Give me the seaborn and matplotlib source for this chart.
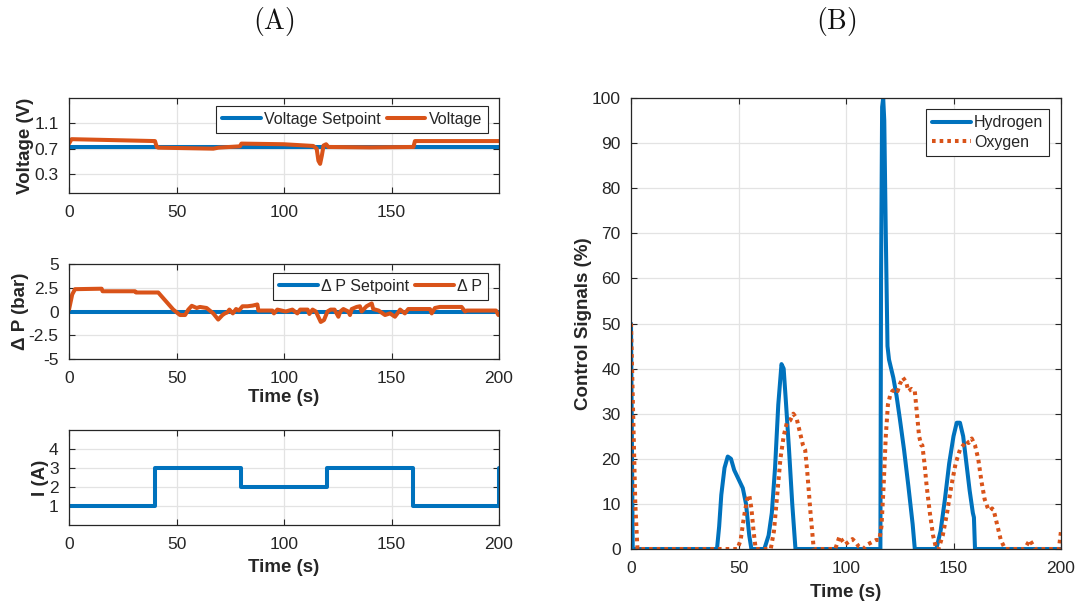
import numpy as np
import pandas as pd
import seaborn as sns
import matplotlib
matplotlib.use("Agg")
import matplotlib.pyplot as plt

# ---------------- data ----------------
v_set_t = [0, 200]
v_set = [0.725, 0.725]
volt_t = [0, 1.2, 40, 40.8, 41.5, 67.1, 69.5, 79.5, 80.2, 99.7, 113.6, 115.2, 116.0, 116.8, 117.6, 118.4, 119.6, 120.6, 140, 160.2, 160.9, 200]
volt_v = [0.78, 0.85, 0.82, 0.727, 0.716, 0.70, 0.716, 0.737, 0.78, 0.77, 0.743, 0.70, 0.51, 0.46, 0.59, 0.75, 0.77, 0.727, 0.72, 0.727, 0.82, 0.82]

dp_set_t = [0, 200]
dp_set = [0, 0]
dp_t = [0, 1.5, 2.8, 15.2, 15.6, 30.7, 31.2, 41.5, 48.5, 51.6, 54, 55.5, 57.1, 59.4, 60.9, 64, 67.1, 69.4, 71.4, 72.5, 73.6, 74.6, 76.2, 77.7, 79, 80.7, 83, 85.4, 87.6, 88.1, 94.6, 95.3, 96.9, 100.8, 103.9, 106.2, 107.5, 111.0, 111.8, 113.3, 114.8, 117.1, 118.6, 120.2, 121.7, 123.5, 125.3, 126.2, 127.6, 129.9, 130.7, 131.5, 133.8, 135.3, 136.1, 138.4, 140.8, 141.5, 144, 147, 149.3, 151.6, 153.1, 154, 156.2, 157.8, 167.9, 168.7, 170.2, 172.5, 182.6, 184.2, 185, 198.6, 199.7]
dp_v = [0.2, 1.8, 2.35, 2.4, 2.13, 2.13, 2.0, 2.0, 0.2, -0.37, -0.37, 0.2, 0.6, 0.37, 0.48, 0.37, -0.2, -0.85, -0.37, -0.2, -0.1, 0.2, -0.2, 0.26, 0.1, 0.55, 0.55, 0.62, 0.74, 0.1, 0.1, -0.2, 0.2, 0.0, 0.2, -0.2, 0.2, 0.2, -0.26, 0.2, 0.0, -1.1, -0.9, 0.0, 0.2, 0.2, -0.55, 0.0, 0.26, 0.0, -0.37, 0.26, 0.48, 0.55, 0.0, 0.55, 0.85, 0.26, 0.1, -0.37, -0.2, -0.55, -0.1, 0.2, -0.2, 0.26, 0.26, -0.2, 0.37, 0.48, 0.48, 0.0, 0.1, 0.1, -0.37]

cur_t = [0, 40, 40, 80, 80, 120, 120, 160, 160, 200, 200]
cur_v = [1, 1, 3, 3, 2, 2, 3, 3, 1, 1, 3]

h2_t = [0, 0.8, 40, 41, 42, 43.5, 45, 46.5, 48, 50, 52, 53.5, 55, 56, 62, 64, 65.5, 67, 68.5, 70, 71, 72, 73.5, 75, 76.5,
        116, 116.3, 116.8, 117.3, 117.8, 118.5, 119.3, 120, 122, 123.5, 125, 127, 129, 131, 132,
        142, 144, 146, 148, 150, 151.5, 153, 154.5, 156, 157.5, 159, 159.5, 160, 200]
h2_v = [50, 0, 0, 5, 12, 18, 20.5, 20, 17.5, 15.5, 13.5, 10, 3, 0, 0, 3, 8, 18, 32, 41, 40, 33, 22, 10, 0,
        0, 60, 98, 100, 95, 70, 45, 42, 38, 34, 29, 22, 14, 5.5, 0,
        0, 4, 11, 19, 25, 28, 28, 25, 19, 13, 8, 7, 0, 0]

o2_t = [0, 1, 2, 3, 49.5, 51, 52.5, 54, 55, 56, 57, 58, 65, 66.5, 68, 69.5, 71, 72.5, 74, 75.5, 77, 78.5, 80, 81, 82, 83.5, 85,
        95, 97, 98, 99.5, 101, 103, 104.5, 106, 108, 110, 112, 114, 115.5, 116.5, 117.5, 118.5, 119.5, 120.5, 121.5, 123, 124,
        125, 126.5, 128, 129, 130.5, 132, 133, 134, 135, 135.5, 136.5, 137.5, 139, 140.5, 142, 143, 145, 147, 149, 151, 153,
        154.5, 156, 157, 158.5, 160, 161.5, 163, 164.5, 166, 167, 168, 169, 170.5, 172, 174, 183, 185.5, 188, 199, 200]
o2_v = [50, 30, 10, 0, 0, 2, 7, 11, 12, 9, 4, 0, 0, 4, 12, 20, 25, 28, 28.5, 30, 29, 26, 23, 22, 17, 8, 0,
        0, 2.8, 2, 1, 1.5, 2.2, 1.5, 0.5, 0, 1, 1.5, 2, 2, 5, 14, 25, 32, 34, 35, 35.5, 35,
        36.5, 38, 37, 35, 35.5, 35, 30, 25, 23, 23, 19, 14, 8, 3, 0, 0, 3, 8, 14, 19, 22,
        23, 24, 23.5, 24.5, 23, 20, 15, 11, 9, 8.5, 9, 8, 5, 2, 0, 0, 2, 0, 0, 4]

# ---------------- style ----------------
sns.set_theme(style="ticks")
plt.rcParams["font.family"] = ["Liberation Sans", "DejaVu Sans"]
plt.rcParams["axes.unicode_minus"] = False
plt.rcParams["mathtext.fontset"] = "cm"

BLUE = "#0072BD"
ORANGE = "#D95319"
TXT = "#262626"
LW = 2.9
TICK_FS = 12.5
LAB_FS = 13.5

fig = plt.figure(figsize=(10.79, 6.06), dpi=100)
W, H = 1079, 606


def add_ax(l, t, r, b):
    return fig.add_axes([l / W, 1 - b / H, (r - l) / W, (b - t) / H])


def style_ax(ax):
    ax.grid(True, color="#e3e3e3", linewidth=0.9)
    ax.set_axisbelow(True)
    ax.tick_params(direction="in", length=4, width=0.8, top=True, right=True,
                   labelsize=TICK_FS, colors=TXT)
    ax.tick_params(axis="x", pad=8.5)
    ax.tick_params(axis="y", pad=7.5)
    for s in ax.spines.values():
        s.set_color(TXT)
        s.set_linewidth(0.9)
        s.set_visible(True)


def legend(ax, anchor, ncol, hl=2.4):
    lg = ax.legend(loc="upper right", bbox_to_anchor=anchor, ncol=ncol, fontsize=11.5,
                   frameon=True, fancybox=False, framealpha=1, edgecolor=TXT,
                   borderaxespad=0, handlelength=hl, borderpad=0.4, labelspacing=0.3,
                   handletextpad=0.2, columnspacing=0.4)
    lg.get_frame().set_linewidth(0.8)
    return lg


ax1 = add_ax(69, 98, 499, 193)
ax2 = add_ax(69, 264, 499, 359)
ax3 = add_ax(69, 430, 499, 525)
ax4 = add_ax(631, 98, 1061, 549)

# Panel 1: voltage
sns.lineplot(x=v_set_t, y=v_set, ax=ax1, color=BLUE, lw=LW, sort=False, estimator=None, label="Voltage Setpoint")
sns.lineplot(x=volt_t, y=volt_v, ax=ax1, color=ORANGE, lw=LW, sort=False, estimator=None, label="Voltage")
ax1.set_xlim(0, 200)
ax1.set_ylim(0, 1.5)
ax1.set_xticks([0, 50, 100, 150])
ax1.set_yticks([0.3, 0.7, 1.1])
ax1.set_yticklabels(["0.3", "0.7", "1.1"])
ax1.set_ylabel("Voltage (V)", fontsize=LAB_FS, fontweight="bold", color=TXT, labelpad=0)
ax1.set_xlabel("")
style_ax(ax1)
legend(ax1, (0.975, 0.92), 2)

# Panel 2: delta P
sns.lineplot(x=dp_set_t, y=dp_set, ax=ax2, color=BLUE, lw=LW, sort=False, estimator=None, label="\u0394 P Setpoint")
sns.lineplot(x=dp_t, y=dp_v, ax=ax2, color=ORANGE, lw=LW, sort=False, estimator=None, label="\u0394 P")
ax2.set_xlim(0, 200)
ax2.set_ylim(-5, 5)
ax2.set_xticks([0, 50, 100, 150, 200])
ax2.set_yticks([5, 2.5, 0, -2.5, -5])
ax2.set_yticklabels(["5", "2.5", "0", "-2.5", "-5"])
ax2.set_ylabel("\u0394 P (bar)", fontsize=LAB_FS, fontweight="bold", color=TXT, labelpad=0)
ax2.set_xlabel("Time (s)", fontsize=LAB_FS, fontweight="bold", color=TXT, labelpad=2)
style_ax(ax2)
legend(ax2, (0.975, 0.91), 2)

# Panel 3: current
sns.lineplot(x=cur_t, y=cur_v, ax=ax3, color=BLUE, lw=LW, sort=False, estimator=None)
ax3.set_xlim(0, 200)
ax3.set_ylim(0, 5)
ax3.set_xticks([0, 50, 100, 150, 200])
ax3.set_yticks([1, 2, 3, 4])
ax3.set_ylabel("I (A)", fontsize=LAB_FS, fontweight="bold", color=TXT, labelpad=0)
ax3.set_xlabel("Time (s)", fontsize=LAB_FS, fontweight="bold", color=TXT, labelpad=5)
style_ax(ax3)

# Panel 4: control signals
sns.lineplot(x=h2_t, y=h2_v, ax=ax4, color=BLUE, lw=LW, sort=False, estimator=None, label="Hydrogen")
sns.lineplot(x=o2_t, y=o2_v, ax=ax4, color=ORANGE, lw=LW, sort=False, estimator=None, label="Oxygen",
             linestyle=(0, (0.9, 1.0)))
ax4.set_xlim(0, 200)
ax4.set_ylim(0, 100)
ax4.set_xticks([0, 50, 100, 150, 200])
ax4.set_yticks(np.arange(0, 101, 10))
ax4.set_ylabel("Control Signals (%)", fontsize=LAB_FS, fontweight="bold", color=TXT, labelpad=0)
ax4.set_xlabel("Time (s)", fontsize=LAB_FS, fontweight="bold", color=TXT, labelpad=6)
style_ax(ax4)
legend(ax4, (0.973, 0.976), 1, hl=2.4)

fig.text(274 / W, 1 - 22 / H, r"$\mathrm{(A)}$", ha="center", va="center", fontsize=20, color="#111111")
fig.text(836 / W, 1 - 22 / H, r"$\mathrm{(B)}$", ha="center", va="center", fontsize=20, color="#111111")

fig.savefig("out.png", dpi=100)
